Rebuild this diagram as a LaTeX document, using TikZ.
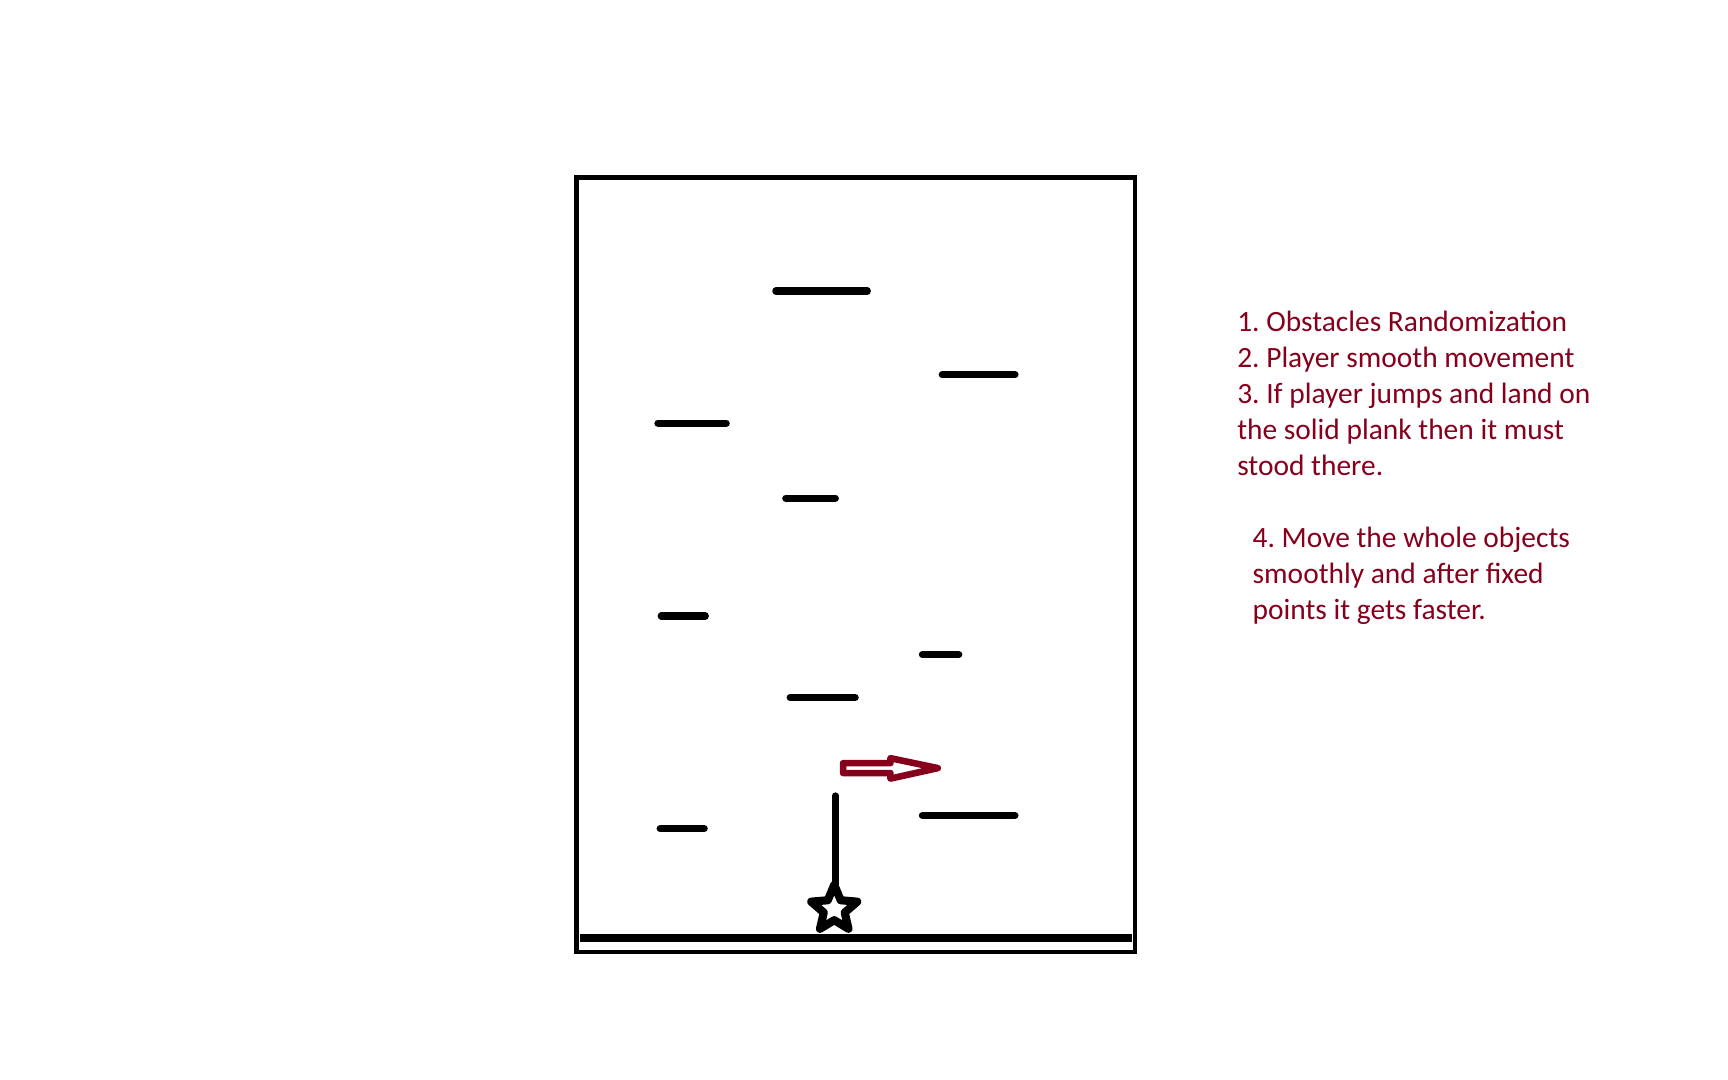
\documentclass[tikz,border=0pt]{standalone}
\usepackage{fontspec}
\setmainfont{Carlito}
\definecolor{dred}{RGB}{134,0,28}
\begin{document}
\frenchspacing
\begin{tikzpicture}[x=0.01cm,y=-0.01cm,
  frame/.style={line width=1.15pt},
  plank/.style={line width=1.85pt,line cap=round},
  ground/.style={line width=1.9pt},
  pole/.style={line width=1.7pt,line cap=round},
  starline/.style={line width=2.1pt,line join=round},
  movearrow/.style={draw=dred,line width=1.7pt,line join=round},
  txt/.style={text=dred,align=left,inner sep=0pt,font=\fontsize{7.6}{9.25}\selectfont}]
\useasboundingbox (0,0) rectangle (1568,980);
% game box
\draw[frame] (523,161) rectangle (1030,864);
\draw[ground] (526,851) -- (1027,851);
% planks
\draw[plank] (704,264) -- (787,264);
\draw[plank] (855,340) -- (921,340);
\draw[plank] (597,384) -- (659,384);
\draw[plank] (713,452) -- (758,452);
\draw[plank] (600,559) -- (640,559);
\draw[plank] (837,594) -- (870,594);
\draw[plank] (717,633) -- (776,633);
\draw[plank] (837,740) -- (921,740);
\draw[plank] (599,752) -- (639,752);
% player star
\coordinate (poletop) at (758,722);
\coordinate (startop) at (758,803);
\draw[pole] (poletop) -- (startop);
\begin{scope}[shift={(757,825)}]
\draw[starline] (-90:22) -- (-54:10) -- (-18:22) -- (18:10) -- (54:22) -- (90:10) -- (126:22) -- (162:10) -- (198:22) -- (234:10) -- cycle;
\end{scope}
% movement arrow
\draw[movearrow] (765,692.5) -- (808,692.5) -- (808,688) -- (851,697) -- (808,706.5) -- (808,701.5) -- (765,701.5) -- cycle;
% text
\node[txt,anchor=north west] (t1) at (1122,282) {1. Obstacles Randomization\\2. Player smooth movement\\3. If player jumps and land on\\the solid plank then it must\\stood there.};
\node[txt,anchor=north west] (t2) at (1136,478) {4. Move the whole objects\\smoothly and after fixed\\points it gets faster.};
\end{tikzpicture}
\end{document}
